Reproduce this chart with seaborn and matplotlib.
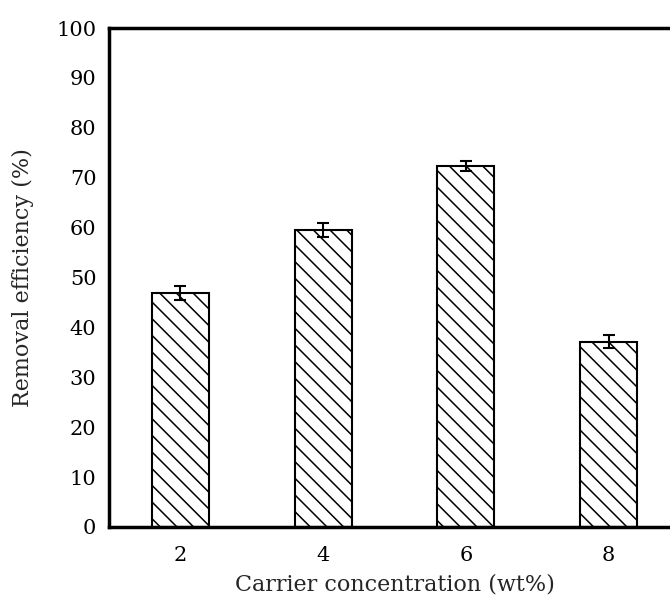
import matplotlib
matplotlib.use("Agg")
import matplotlib.pyplot as plt
import seaborn as sns
import numpy as np

concentrations = ["2", "4", "6", "8"]
efficiency = [46.8, 59.5, 72.3, 37.1]
errors = [1.4, 1.4, 1.0, 1.3]
y_ticks = [0, 10, 20, 30, 40, 50, 60, 70, 80, 90, 100]

sns.set_style("white")
plt.rcParams['font.family'] = ['DejaVu Serif']
plt.rcParams['hatch.linewidth'] = 1.1
plt.rcParams['hatch.color'] = '#333333'

fig = plt.figure(figsize=(6.7, 6.0), dpi=100)
ax = fig.add_axes([109/670, 73/600, 571/670, 499/600])

sns.barplot(x=concentrations, y=efficiency, color="white", edgecolor="black",
            width=0.4, linewidth=1.5, hatch="\\\\", ax=ax, errorbar=None)

xs = [p.get_x() + p.get_width() / 2 for p in ax.patches]
ax.errorbar(xs, efficiency, yerr=errors, fmt="none", ecolor="black",
            elinewidth=1.5, capsize=4.5, capthick=1.5, zorder=5)

ax.set_xlim(-0.5, 3.5)
ax.set_ylim(0, 100)
ax.set_yticks(y_ticks)
ax.tick_params(axis="both", length=0, labelsize=15, colors="black")
ax.tick_params(axis="y", pad=9)
ax.tick_params(axis="x", pad=14)
ax.set_xlabel("Carrier concentration (wt%)", fontsize=16, labelpad=6)
ax.set_ylabel("Removal efficiency (%)", fontsize=16, labelpad=16)

for s in ["left", "bottom", "top"]:
    ax.spines[s].set_visible(True)
    ax.spines[s].set_color("black")
    ax.spines[s].set_linewidth(2.5)
ax.spines["right"].set_visible(False)

fig.savefig("out.png", dpi=100)
